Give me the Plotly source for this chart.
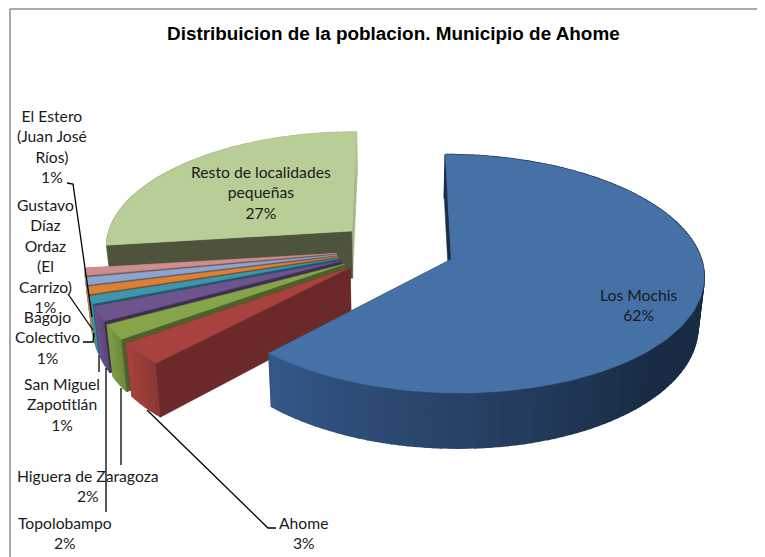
import numpy as np
import plotly.graph_objects as go

# ---- data ----
categories = ["Los Mochis", "Ahome", "Higuera de Zaragoza", "Topolobampo", "San Miguel Zapotitlán",
              "Bagojo Colectivo", "Gustavo Díaz Ordaz (El Carrizo)", "El Estero (Juan José Ríos)",
              "Resto de localidades pequeñas"]
values = [62, 3, 2, 2, 1, 1, 1, 1, 27]
label_lines = ["Los Mochis", "Ahome", "Higuera de Zaragoza", "Topolobampo", "San Miguel<br>Zapotitlán",
               "Bagojo<br>Colectivo", "Gustavo<br>Díaz<br>Ordaz<br>(El<br>Carrizo)", "El Estero<br>(Juan José<br>Ríos)",
               "Resto de localidades<br>pequeñas"]
title = "Distribuicion de la poblacion. Municipio de Ahome"

# ---- styles ----
top_colors = ["#4571a6", "#a8423f", "#86a44a", "#6e548d", "#3d96ae", "#da8137", "#8da5cb", "#ce8e8d", "#b9cd96"]
wall_colors = ["#1b2e47", "#6b2a29", "#4d5f2a", "#3e2f52", "#23576a", "#7f4b1f", "#505f76", "#785352", "#4e533c"]
end_wall_colors = ["#1b2e47", "#6b2a29", "#4d5f2a", "#3e2f52", "#23576a", "#7f4b1f", "#505f76", "#785352", "#a4b685"]
rim_from = ["#1a2c45", "#8c3834", "#6f8a3c", "#5c4678", "#327e94", "#b96d2d", "#7488aa", "#ad7776", "#9db07f"]
rim_to = ["#35598a", "#a5403c", "#7c9a44", "#684f86", "#3a90a8", "#d07b33", "#869dc2", "#c48887", "#aec28c"]

# ---- camera / layout geometry ----
CX, CY, RX, RY, KP, DEPTH, XSHRINK, EXPLODE = 395.5, 249, 247.5, 115, 0.12, 48, 0.02, 0.24
PAGE_MARGIN = 8  # the page body has a default 8px margin

label_pos = [(638, 305), (303, 533), (88, 486), (65, 533), (62, 404), (47, 337), (45, 256), (52, 146), (261, 192)]
leaders = [
    [(147, 410), (268, 528), (276, 528)],
    [(121, 388), (121, 465)],
    [(106, 368), (106, 512)],
    [(99, 355), (99, 372)],
    [(83, 342), (93, 342), (94, 333)],
    [(68, 294), (93, 330)],
    [(67, 183), (73, 184), (92, 317)],
]


def project(u, v, z=0.0):
    u, v = np.asarray(u, float), np.asarray(v, float)
    s = 1 / (1 - KP * v)
    return CX + RX * u * s * (1 - XSHRINK * z), CY + RY * v * s + DEPTH * s * z


def mix(a, b, t):
    ca = [int(a[i:i + 2], 16) for i in (1, 3, 5)]
    cb = [int(b[i:i + 2], 16) for i in (1, 3, 5)]
    return "rgb(%d,%d,%d)" % tuple(round(x + (y - x) * t) for x, y in zip(ca, cb))


fig = go.Figure()


def poly(xs, ys, color, lw=0.5):
    fig.add_trace(go.Scatter(x=list(xs) + [xs[0]], y=list(ys) + [ys[0]], mode="lines", fill="toself",
                             fillcolor=color, line=dict(color=color, width=lw),
                             hoverinfo="skip", showlegend=False))


def wall(ang, ou, ov, col):
    eu, ev = ou + np.sin(ang), ov - np.cos(ang)
    x0, y0 = project([ou, eu], [ov, ev], 0)
    x1, y1 = project([ou, eu], [ov, ev], 1)
    poly([x0[0], x0[1], x1[1], x1[0]], [y0[0], y0[1], y1[1], y1[0]], col)


total = sum(values)
edges = np.cumsum([0] + values) / total * 2 * np.pi

for i in range(len(values) - 1, -1, -1):
    a, b = edges[i], edges[i + 1]
    mid = (a + b) / 2
    ou, ov = EXPLODE * np.sin(mid), -EXPLODE * np.cos(mid)
    n = max(4, int((b - a) / 0.03))
    th = np.linspace(a, b, n + 1)
    us, vs = ou + np.sin(th), ov - np.cos(th)

    wall(b, ou, ov, end_wall_colors[i])

    # outer rim, shaded along the arc
    xt, yt = project(us, vs, 0)
    xb, yb = project(us, vs, 1)
    for j in range(n):
        if i == 0:
            t = np.clip((th[j] - np.pi * 0.75) / (np.pi * 0.5), 0, 1)
        else:
            t = j / max(n - 1, 1)
        poly([xt[j], xt[j + 1], xb[j + 1], xb[j]], [yt[j], yt[j + 1], yb[j + 1], yb[j]],
             mix(rim_from[i], rim_to[i], t), lw=1.5)

    wall(a, ou, ov, wall_colors[i])

    # top face
    ax, ay = project([ou], [ov], 0)
    poly([ax[0]] + list(xt), [ay[0]] + list(yt), top_colors[i])

# leader lines
for pts in leaders:
    fig.add_trace(go.Scatter(x=[p[0] for p in pts], y=[p[1] for p in pts], mode="lines",
                             line=dict(color="#000000", width=1.3), hoverinfo="skip", showlegend=False))

annotations = []
for lab, val, (lx, ly) in zip(label_lines, values, label_pos):
    annotations.append(dict(x=lx, y=ly, xref="x", yref="y", text=f"{lab}<br>{round(val / total * 100)}%",
                            showarrow=False, align="center", xanchor="center", yanchor="middle",
                            font=dict(family="Lato", size=15.7, color="#1a1a1a")))
annotations.append(dict(x=393, y=33, xref="x", yref="y", text=f"<b>{title}</b>", showarrow=False,
                        xanchor="center", yanchor="middle",
                        font=dict(family="Liberation Sans", size=18.9, color="#000000")))

fig.update_layout(
    width=765 - PAGE_MARGIN, height=557 - PAGE_MARGIN, autosize=False,
    margin=dict(l=0, r=0, t=0, b=0),
    paper_bgcolor="#ffffff", plot_bgcolor="#ffffff",
    xaxis=dict(range=[PAGE_MARGIN, 765], visible=False, fixedrange=True),
    yaxis=dict(range=[557, PAGE_MARGIN], visible=False, fixedrange=True),
    annotations=annotations,
    shapes=[
        dict(type="line", xref="x", yref="y", x0=10, x1=765, y0=9, y1=9, line=dict(color="#8c8c8c", width=1.5)),
        dict(type="line", xref="x", yref="y", x0=10, x1=10, y0=9, y1=557, line=dict(color="#8c8c8c", width=1.5)),
    ],
)
fig.write_html("out.html")
